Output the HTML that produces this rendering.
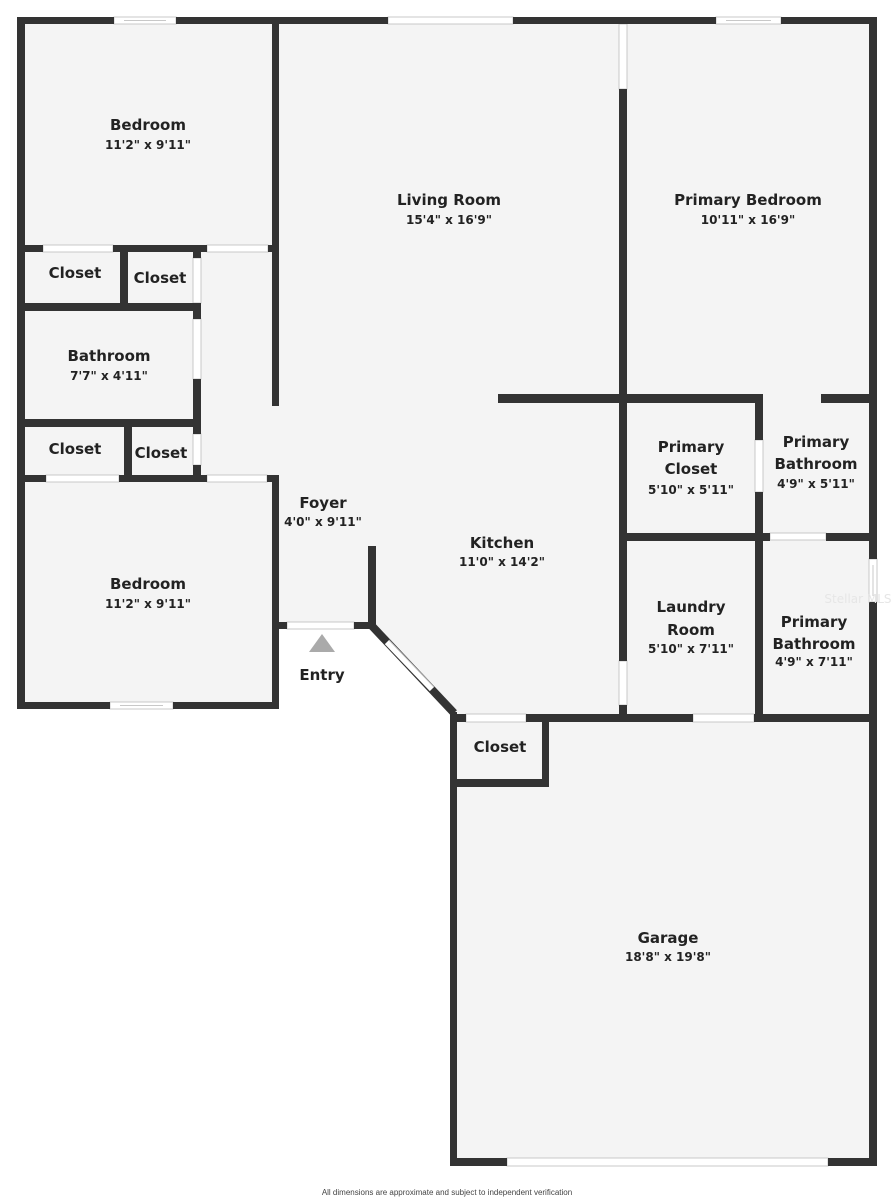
<!DOCTYPE html>
<html><head><meta charset="utf-8"><style>
html,body{margin:0;padding:0;background:#fff;}
svg{display:block;}
text{font-family:"DejaVu Sans","Liberation Sans",sans-serif;font-weight:bold;fill:#222;text-anchor:middle;}
.n{font-size:15px;}
.d{font-size:12px;}
</style></head><body>
<svg width="894" height="1200" viewBox="0 0 894 1200" xmlns="http://www.w3.org/2000/svg">
<rect width="894" height="1200" fill="#fff"/>
<polygon points="17,17 877,17 877,1166 450,1166 450,712 372,626 279,626 279,709 17,709" fill="#f4f4f4"/>
<g fill="#fff" stroke="#c8c8c8" stroke-width="1">
<rect x="114" y="17" width="62" height="7"/>
<rect x="388" y="17" width="125" height="7"/>
<rect x="716" y="17" width="65" height="7"/>
<rect x="110" y="702" width="63" height="7"/>
<rect x="43" y="245" width="70" height="7"/>
<rect x="207" y="245" width="61" height="7"/>
<rect x="46" y="475" width="73" height="7"/>
<rect x="207" y="475" width="60" height="7"/>
<rect x="193" y="258" width="8" height="45"/>
<rect x="193" y="319" width="8" height="60"/>
<rect x="193" y="434" width="8" height="31"/>
<rect x="287" y="622" width="67" height="7"/>
<rect x="619" y="24" width="8" height="65"/>
<rect x="619" y="661" width="8" height="44"/>
<rect x="755" y="440" width="8" height="52"/>
<rect x="770" y="533" width="56" height="7"/>
<rect x="869" y="559" width="8" height="43"/>
<rect x="466" y="714" width="60" height="8"/>
<rect x="693" y="714" width="61" height="8"/>
<rect x="507" y="1158" width="321" height="8"/>
</g>
<g fill="none" stroke="#c8c8c8" stroke-width="1">
<line x1="124" y1="20.5" x2="166" y2="20.5"/>
<line x1="726" y1="20.5" x2="771" y2="20.5"/>
<line x1="120" y1="705.5" x2="163" y2="705.5"/>
<line x1="873" y1="565" x2="873" y2="596"/>
</g>
<g fill="#333">
<rect x="17" y="17" width="97" height="7"/>
<rect x="176" y="17" width="212" height="7"/>
<rect x="513" y="17" width="203" height="7"/>
<rect x="781" y="17" width="96" height="7"/>
<rect x="17" y="17" width="8" height="692"/>
<rect x="17" y="702" width="93" height="7"/>
<rect x="173" y="702" width="106" height="7"/>
<rect x="869" y="17" width="8" height="542"/>
<rect x="869" y="602" width="8" height="564"/>
<rect x="450" y="1158" width="57" height="8"/>
<rect x="828" y="1158" width="49" height="8"/>
<rect x="450" y="712" width="7" height="454"/>
<rect x="272" y="17" width="7" height="389"/>
<rect x="17" y="245" width="26" height="7"/>
<rect x="113" y="245" width="94" height="7"/>
<rect x="268" y="245" width="11" height="7"/>
<rect x="120" y="252" width="8" height="55"/>
<rect x="17" y="303" width="182" height="8"/>
<rect x="193" y="245" width="8" height="13"/>
<rect x="193" y="303" width="8" height="16"/>
<rect x="193" y="379" width="8" height="55"/>
<rect x="193" y="465" width="8" height="17"/>
<rect x="17" y="419" width="182" height="8"/>
<rect x="124" y="427" width="8" height="55"/>
<rect x="17" y="475" width="29" height="7"/>
<rect x="119" y="475" width="88" height="7"/>
<rect x="267" y="475" width="12" height="7"/>
<rect x="272" y="475" width="7" height="234"/>
<rect x="279" y="622" width="8" height="7"/>
<rect x="354" y="622" width="18" height="7"/>
<rect x="368" y="546" width="8" height="83"/>
<rect x="619" y="17" width="8" height="7"/>
<rect x="619" y="89" width="8" height="572"/>
<rect x="619" y="705" width="8" height="17"/>
<rect x="498" y="394" width="265" height="9"/>
<rect x="821" y="394" width="56" height="9"/>
<rect x="755" y="394" width="8" height="46"/>
<rect x="755" y="492" width="8" height="230"/>
<rect x="619" y="533" width="151" height="8"/>
<rect x="826" y="533" width="51" height="8"/>
<rect x="450" y="714" width="16" height="8"/>
<rect x="526" y="714" width="167" height="8"/>
<rect x="754" y="714" width="123" height="8"/>
<rect x="542" y="714" width="7" height="73"/>
<rect x="450" y="779" width="99" height="8"/>
</g>
<line x1="372" y1="626" x2="454" y2="713" stroke="#333" stroke-width="8"/>
<line x1="387" y1="642" x2="432" y2="689" stroke="#fff" stroke-width="6"/>
<line x1="389" y1="640" x2="434" y2="687" stroke="#bbb" stroke-width="1"/>
<polygon points="322,634 309,652 335,652" fill="#aaa"/>
<text class="n" x="148" y="130">Bedroom</text><text class="d" x="148" y="149">11'2" x 9'11"</text>
<text class="n" x="449" y="205">Living Room</text><text class="d" x="449" y="224">15'4" x 16'9"</text>
<text class="n" x="748" y="205">Primary Bedroom</text><text class="d" x="748" y="224">10'11" x 16'9"</text>
<text class="n" x="75" y="278">Closet</text>
<text class="n" x="160" y="283">Closet</text>
<text class="n" x="109" y="361">Bathroom</text><text class="d" x="109" y="380">7'7" x 4'11"</text>
<text class="n" x="75" y="454">Closet</text>
<text class="n" x="161" y="458">Closet</text>
<text class="n" x="148" y="589">Bedroom</text><text class="d" x="148" y="608">11'2" x 9'11"</text>
<text class="n" x="323" y="508">Foyer</text><text class="d" x="323" y="526">4'0" x 9'11"</text>
<text class="n" x="502" y="548">Kitchen</text><text class="d" x="502" y="566">11'0" x 14'2"</text>
<text class="n" x="691" y="452">Primary</text><text class="n" x="691" y="474">Closet</text><text class="d" x="691" y="494">5'10" x 5'11"</text>
<text class="n" x="816" y="447">Primary</text><text class="n" x="816" y="469">Bathroom</text><text class="d" x="816" y="488">4'9" x 5'11"</text>
<text class="n" x="691" y="612">Laundry</text><text class="n" x="691" y="635">Room</text><text class="d" x="691" y="653">5'10" x 7'11"</text>
<text class="n" x="814" y="627">Primary</text><text class="n" x="814" y="649">Bathroom</text><text class="d" x="814" y="666">4'9" x 7'11"</text>
<text class="n" x="500" y="752">Closet</text>
<text class="n" x="668" y="943">Garage</text><text class="d" x="668" y="961">18'8" x 19'8"</text>
<text class="n" x="322" y="680">Entry</text>
<text x="858" y="603" style="font-size:12px;fill:#e6e6e6;font-weight:normal">Stellar MLS</text>
<text x="447" y="1195" style="font-size:8px;font-weight:normal;fill:#444;font-family:'Liberation Sans',sans-serif">All dimensions are approximate and subject to independent verification</text>
</svg>
</body></html>
